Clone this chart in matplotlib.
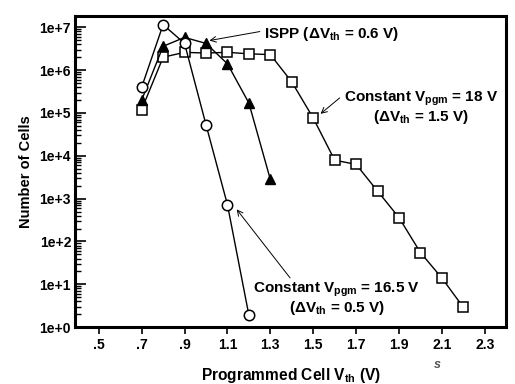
from matplotlib import pyplot as plt
from matplotlib.ticker import LogLocator, NullFormatter
import numpy

plt.rcParams['font.family'] = ['Liberation Sans', 'DejaVu Sans']
plt.rcParams['font.weight'] = 'bold'
plt.rcParams['mathtext.fontset'] = 'custom'
plt.rcParams['mathtext.rm'] = 'Liberation Sans:bold'
plt.rcParams['mathtext.it'] = 'Liberation Sans:bold'
plt.rcParams['mathtext.bf'] = 'Liberation Sans:bold'

# constant Vpgm = 16.5 V (circles)
vth_165 = [0.7, 0.8, 0.9, 1.0, 1.1, 1.2]
cells_165 = [4.0e5, 1.15e7, 4.2e6, 5.3e4, 7.2e2, 1.9]

# ISPP (triangles)
vth_ispp = [0.7, 0.8, 0.9, 1.0, 1.1, 1.2, 1.3]
cells_ispp = [2.0e5, 3.6e6, 5.8e6, 4.2e6, 1.4e6, 1.7e5, 2.8e3]

# constant Vpgm = 18 V (squares)
vth_18 = [0.7, 0.8, 0.9, 1.0, 1.1, 1.2, 1.3, 1.4, 1.5, 1.6, 1.7, 1.8, 1.9, 2.0, 2.1, 2.2]
cells_18 = [1.2e5, 2.0e6, 2.6e6, 2.5e6, 2.6e6, 2.4e6, 2.3e6, 5.3e5, 7.6e4,
            7.9e3, 6.3e3, 1.5e3, 3.6e2, 55, 14, 2.9]

xticks = [0.5, 0.7, 0.9, 1.1, 1.3, 1.5, 1.7, 1.9, 2.1, 2.3]
xticklabels = ['.5', '.7', '.9', '1.1', '1.3', '1.5', '1.7', '1.9', '2.1', '2.3']
yticks = [1e0, 1e1, 1e2, 1e3, 1e4, 1e5, 1e6, 1e7]
yticklabels = ['1e+0', '1e+1', '1e+2', '1e+3', '1e+4', '1e+5', '1e+6', '1e+7']

fig = plt.figure(figsize=(5.15, 3.84), dpi=100)
ax = fig.add_axes([0.146, 0.148, 0.837, 0.81])

ax.plot(vth_18, cells_18, '-', c='black', lw=1, marker='s', ms=6.5,
        mfc='white', mec='black', mew=1.1, zorder=3)
ax.plot(vth_ispp, cells_ispp, '-', c='black', lw=1, marker='^', ms=6.5,
        mfc='black', mec='black', zorder=4)
ax.plot(vth_165, cells_165, '-', c='black', lw=1, marker='o', ms=7.5,
        mfc='white', mec='black', mew=1.1, zorder=5)

ax.set_yscale('log')
ax.set_xlim(0.39, 2.40)
ax.set_ylim(1, 10 ** 7.26)

ax.set_xticks(xticks)
ax.set_xticklabels(xticklabels)
ax.set_yticks(yticks)
ax.set_yticklabels(yticklabels)
ax.yaxis.set_minor_locator(LogLocator(base=10, subs=numpy.arange(2, 10), numticks=20))
ax.yaxis.set_minor_formatter(NullFormatter())

ax.tick_params(axis='x', direction='out', length=5, width=1.2, labelsize=10, pad=3)
ax.tick_params(axis='y', which='major', direction='in', length=8, width=1.2, labelsize=10, pad=3)
ax.tick_params(axis='y', which='minor', direction='in', length=4, width=1)
for s in ax.spines.values():
    s.set_linewidth(2.2)

ax.set_xlabel(r'Programmed Cell V$_{\mathrm{th}}$ (V)', fontsize=11.2, fontweight='bold', labelpad=10)
ax.set_ylabel('Number of Cells', fontsize=10.5, fontweight='bold', labelpad=5)

arrow = dict(arrowstyle='->', color='black', lw=0.7, shrinkA=0, shrinkB=0)

# ISPP label
ax.text(1.27, 10 ** 6.85, r'ISPP ($\Delta$V$_{\mathrm{th}}$ = 0.6 V)', fontsize=11,
        fontweight='bold', ha='left', va='center')
ax.annotate('', xy=(1.016, 10 ** 6.69), xytext=(1.251, 10 ** 6.90), arrowprops=arrow)

# constant 18 V label
ax.text(2.004, 10 ** 5.12, 'Constant V$_{\\mathrm{pgm}}$ = 18 V\n($\\Delta$V$_{\\mathrm{th}}$ = 1.5 V)',
        fontsize=11, fontweight='bold', ha='center', va='center',
        multialignment='center', linespacing=1.0)
ax.annotate('', xy=(1.534, 10 ** 4.98), xytext=(1.623, 10 ** 5.35), arrowprops=arrow)

# constant 16.5 V label
ax.text(1.609, 10 ** 0.66, 'Constant V$_{\\mathrm{pgm}}$ = 16.5 V\n($\\Delta$V$_{\\mathrm{th}}$ = 0.5 V)',
        fontsize=11, fontweight='bold', ha='center', va='center',
        multialignment='center', linespacing=1.0)
ax.annotate('', xy=(1.143, 10 ** 2.75), xytext=(1.392, 10 ** 1.15), arrowprops=arrow)

fig.text(0.85, 0.042, 's', fontsize=9, color='#555555', style='italic', ha='center')

plt.savefig('out.png', dpi=100)
